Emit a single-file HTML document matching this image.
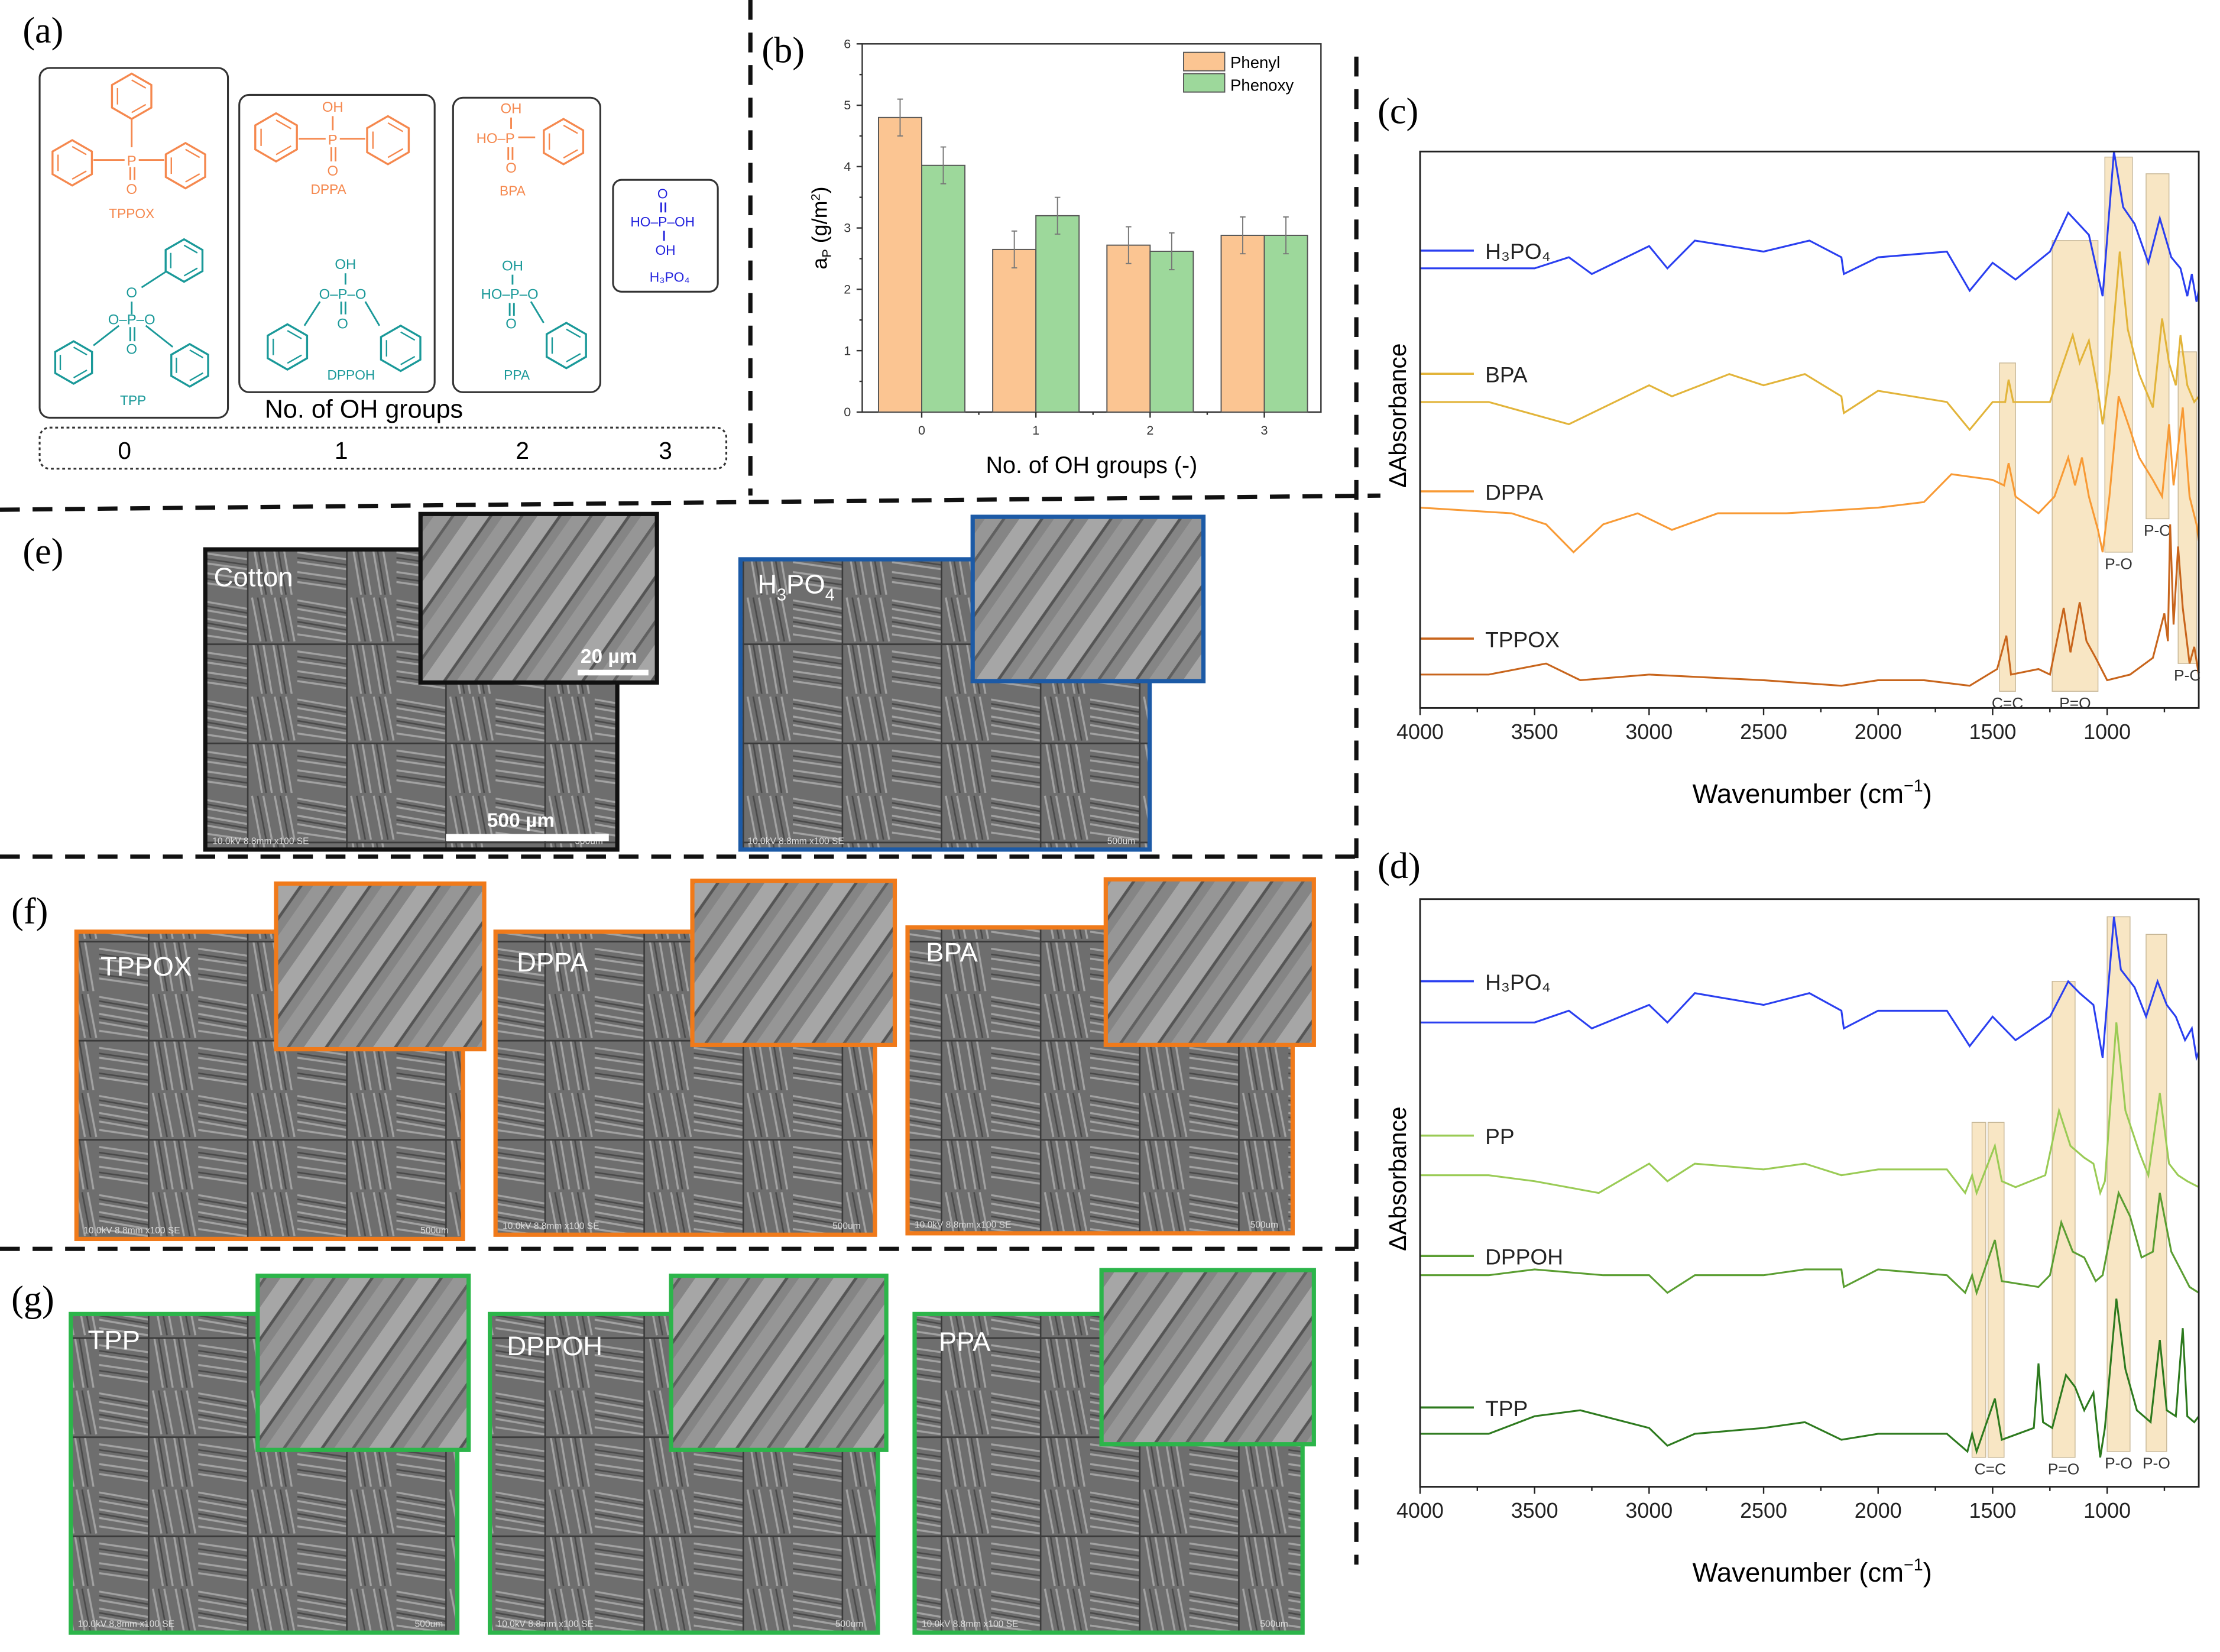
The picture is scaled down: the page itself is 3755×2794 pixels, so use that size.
<!DOCTYPE html>
<html><head><meta charset="utf-8">
<style>
html,body{margin:0;padding:0;background:#fff;}
svg{display:block;font-family:"Liberation Sans",sans-serif;}
.pl{font-family:"Liberation Serif",serif;font-size:26px;}
</style></head>
<body>
<svg id="fig" width="3755" height="2794" viewBox="0 0 1568 1166.7" xmlns="http://www.w3.org/2000/svg">
<defs>
<pattern id="weave" width="70" height="70" patternUnits="userSpaceOnUse">
<rect width="70" height="70" fill="#6e6e6e"/>
<g stroke="#a2a2a2" stroke-width="1.4">
<line x1="0" y1="4" x2="35" y2="10"/><line x1="0" y1="10" x2="35" y2="16"/><line x1="0" y1="16" x2="35" y2="22"/><line x1="0" y1="22" x2="35" y2="28"/><line x1="0" y1="28" x2="35" y2="33"/>
<line x1="39" y1="35" x2="45" y2="70"/><line x1="46" y1="35" x2="52" y2="70"/><line x1="53" y1="35" x2="59" y2="70"/><line x1="60" y1="35" x2="66" y2="70"/>
<line x1="38" y1="2" x2="44" y2="33"/><line x1="46" y1="2" x2="52" y2="33"/><line x1="54" y1="2" x2="60" y2="33"/><line x1="62" y1="2" x2="68" y2="33"/>
<line x1="0" y1="40" x2="35" y2="45"/><line x1="0" y1="47" x2="35" y2="52"/><line x1="0" y1="54" x2="35" y2="59"/><line x1="0" y1="61" x2="35" y2="66"/>
</g>
<g stroke="#4a4a4a" stroke-width="1.1">
<line x1="0" y1="7" x2="35" y2="13"/><line x1="0" y1="19" x2="35" y2="25"/><line x1="42" y1="35" x2="48" y2="70"/><line x1="56" y1="35" x2="62" y2="70"/>
<line x1="42" y1="2" x2="48" y2="33"/><line x1="58" y1="2" x2="64" y2="33"/><line x1="0" y1="44" x2="35" y2="49"/><line x1="0" y1="58" x2="35" y2="63"/>
<line x1="35" y1="0" x2="35" y2="70" stroke="#3a3a3a"/><line x1="0" y1="35" x2="70" y2="35" stroke="#3a3a3a"/>
</g>
</pattern>
<pattern id="fiber" width="40" height="40" patternUnits="userSpaceOnUse" patternTransform="rotate(-55)">
<rect width="40" height="40" fill="#858585"/>
<rect x="0" y="0" width="40" height="12" fill="#a6a6a6"/>
<rect x="0" y="12" width="40" height="2" fill="#555"/>
<rect x="0" y="20" width="40" height="10" fill="#969696"/>
<rect x="0" y="30" width="40" height="2" fill="#606060"/>
</pattern>
</defs>

<g stroke="#111" stroke-width="3" stroke-dasharray="14,9" fill="none">
<line x1="530" y1="0" x2="530" y2="350"/>
<line x1="0" y1="360" x2="975" y2="350"/>
<line x1="958" y1="40" x2="958" y2="1105"/>
<line x1="0" y1="605" x2="958" y2="605"/>
<line x1="0" y1="882" x2="958" y2="882"/>
</g>

<text class="pl" x="16" y="30">(a)</text>
<text class="pl" x="538" y="44">(b)</text>
<text class="pl" x="973" y="87">(c)</text>
<text class="pl" x="973" y="620">(d)</text>
<text class="pl" x="16" y="398">(e)</text>
<text class="pl" x="8" y="652">(f)</text>
<text class="pl" x="8" y="926">(g)</text>

<g id="panelA">
<g fill="none" stroke="#333" stroke-width="1.3">
<rect x="28" y="48" width="133" height="247" rx="7"/>
<rect x="169" y="67" width="138" height="210" rx="7"/>
<rect x="320" y="69" width="104" height="208" rx="7"/>
<rect x="433" y="127" width="74" height="79" rx="6"/>
<rect x="28" y="302" width="485" height="29" rx="7" stroke-dasharray="2,2"/>
</g>
<g id="molText" font-size="10" text-anchor="middle" font-family="Liberation Sans Narrow, Liberation Sans, sans-serif"></g>
<text x="257" y="295" font-size="18" text-anchor="middle">No. of OH groups</text>
<g font-size="17" text-anchor="middle">
<text x="88" y="324">0</text><text x="241" y="324">1</text><text x="369" y="324">2</text><text x="470" y="324">3</text>
</g>
</g>

<g id="panelB"></g>
<g id="panelC"></g>
<g id="panelD"></g>
<g id="sem"></g>
</svg>

<script>
var NS="http://www.w3.org/2000/svg";
function mk(tag,attrs,parent,txt){var e=document.createElementNS(NS,tag);for(var k in attrs)e.setAttribute(k,attrs[k]);if(txt!==undefined)e.textContent=txt;parent.appendChild(e);return e;}

var OR="#f5884e",TE="#1a9999",BL="#2222dd";
var A=document.getElementById('panelA');
function hex(cx,cy,r,col){var p=[];for(var i=0;i<6;i++){var a=Math.PI/6+i*Math.PI/3;p.push((cx+r*Math.cos(a)).toFixed(1)+","+(cy+r*Math.sin(a)).toFixed(1));}
var h=mk('polygon',{points:p.join(' '),fill:'none',stroke:col,'stroke-width':1.4},A);


var q=[];for(var j=0;j<6;j++){var b=Math.PI/6+j*Math.PI/3;q.push((cx+r*0.72*Math.cos(b)).toFixed(1)+","+(cy+r*0.72*Math.sin(b)).toFixed(1));}
mk('polyline',{points:q.slice(0,2).join(' '),stroke:col,fill:'none','stroke-width':1},A);
mk('polyline',{points:q.slice(2,4).join(' '),stroke:col,fill:'none','stroke-width':1},A);
mk('polyline',{points:q.slice(4,6).join(' '),stroke:col,fill:'none','stroke-width':1},A);}
function ln(x1,y1,x2,y2,col){mk('line',{x1:x1,y1:y1,x2:x2,y2:y2,stroke:col,'stroke-width':1.2},A);}
var T=document.getElementById('molText');
function tx(x,y,s,col,sz){var t=mk('text',{x:x,y:y,fill:col,'font-size':sz||10},T,s);return t;}
hex(93,68,16,OR);hex(51,115,16,OR);hex(131,117,16,OR);
ln(93,84,93,104,OR);ln(66,113,88,113,OR);ln(98,113,116,113,OR);ln(92,118,92,127,OR);ln(95,118,95,127,OR);
tx(93,117,"P",OR);tx(93,137,"O",OR);tx(93,154,"TPPOX",OR,9.5);
hex(130,184,15,TE);hex(52,256,15,TE);hex(134,258,15,TE);
tx(93,210,"O",TE);ln(93,213,93,222,TE);tx(93,229,"O–P–O",TE);ln(92,231,92,241,TE);ln(95,231,95,241,TE);tx(93,250,"O",TE);
ln(100,203,117,192,TE);ln(84,230,66,244,TE);ln(103,230,122,245,TE);tx(94,286,"TPP",TE,9.5);
hex(195,97,17,OR);hex(274,99,17,OR);
tx(235,79,"OH",OR);ln(235,82,235,92,OR);tx(235,102,"P",OR);ln(211,98,230,98,OR);ln(240,98,258,98,OR);ln(234,104,234,114,OR);ln(237,104,237,114,OR);tx(235,124,"O",OR);
tx(232,137,"DPPA",OR,9.5);
tx(244,190,"OH",TE);ln(244,193,244,201,TE);tx(242,211,"O–P–O",TE);ln(241,213,241,222,TE);ln(244,213,244,222,TE);tx(242,232,"O",TE);
ln(226,213,215,230,TE);ln(258,213,268,230,TE);hex(203,245,16,TE);hex(283,246,16,TE);tx(248,268,"DPPOH",TE,9.5);
tx(361,80,"OH",OR);ln(361,83,361,91,OR);tx(350,101,"HO–P",OR);ln(366,97,378,97,OR);hex(398,100,16,OR);ln(359,104,359,113,OR);ln(362,104,362,113,OR);tx(361,122,"O",OR);tx(362,138,"BPA",OR,9.5);
tx(362,191,"OH",TE);ln(362,194,362,201,TE);tx(360,211,"HO–P–O",TE);ln(360,214,360,223,TE);ln(363,214,363,223,TE);tx(361,232,"O",TE);ln(375,213,384,228,TE);hex(400,244,16,TE);tx(365,268,"PPA",TE,9.5);
tx(468,140,"O",BL,9.5);ln(467,143,467,150,BL);ln(470,143,470,150,BL);tx(468,160,"HO–P–OH",BL,9.5);ln(469,163,469,170,BL);tx(470,180,"OH",BL,9.5);tx(473,199,"H₃PO₄",BL,9.5);

/* ---------- Panel b bar chart ---------- */
var bCategories=["0","1","2","3"];
var bPhenyl=[4.8,2.65,2.72,2.88];
var bPhenoxy=[4.02,3.2,2.62,2.88];
var bPhenylErr=[0.3,0.3,0.3,0.3];
var bPhenoxyErr=[0.3,0.3,0.3,0.3];
var bYTicks=[0,1,2,3,4,5,6];
(function(){
var G=document.getElementById('panelB');
var L=609,R=933,Tp=31,Bt=291,ymax=6;
function y(v){return Bt-(v/ymax)*(Bt-Tp);}
var n=bCategories.length;
function xc(i){return 651+i*((893-651)/(n-1));}
var bw=30.5;
var fr=mk('rect',{x:L,y:Tp,width:R-L,height:Bt-Tp,fill:'none',stroke:'#333','stroke-width':1},G);

bYTicks.forEach(function(t){mk('line',{x1:L-4,y1:y(t),x2:L,y2:y(t),stroke:'#333'},G);
var tt=mk('text',{x:L-8,y:y(t)+3,'font-size':9,'text-anchor':'end',fill:'#333'},G,t);
if(t<ymax)mk('line',{x1:L-2,y1:y(t+0.5),x2:L,y2:y(t+0.5),stroke:'#333'},G);});
for(var i=0;i<n;i++){var cx=xc(i);
var r1=mk('rect',{x:cx-bw,y:y(bPhenyl[i]),width:bw,height:Bt-y(bPhenyl[i]),fill:'#fbc592',stroke:'#555','stroke-width':0.8},G);

var r2=mk('rect',{x:cx,y:y(bPhenoxy[i]),width:bw,height:Bt-y(bPhenoxy[i]),fill:'#9dd89b',stroke:'#555','stroke-width':0.8},G);

[[cx-bw/2,bPhenyl[i],bPhenylErr[i]],[cx+bw/2,bPhenoxy[i],bPhenoxyErr[i]]].forEach(function(e){
var eb=mk('path',{d:'M'+e[0]+' '+y(e[1]+e[2])+'V'+y(e[1]-e[2])+'M'+(e[0]-2)+' '+y(e[1]+e[2])+'h4M'+(e[0]-2)+' '+y(e[1]-e[2])+'h4',stroke:'#777',fill:'none','stroke-width':0.8},G);
});
mk('line',{x1:cx,y1:Bt,x2:cx,y2:Bt+4,stroke:'#333'},G);
var xl=mk('text',{x:cx,y:Bt+16,'font-size':9,'text-anchor':'middle',fill:'#333'},G,bCategories[i]);

if(i<n-1)mk('line',{x1:cx+(xc(1)-xc(0))/2,y1:Bt,x2:cx+(xc(1)-xc(0))/2,y2:Bt+2,stroke:'#333'},G);}
var xt=mk('text',{x:771,y:334,'font-size':16.5,'text-anchor':'middle'},G,"No. of OH groups (-)");

var yt=mk('text',{x:0,y:0,'font-size':15,'text-anchor':'middle',transform:'translate(584,161) rotate(-90)'},G);

yt.innerHTML='a<tspan font-size="9" dy="3">P</tspan><tspan dy="-3"> (g/m</tspan><tspan font-size="9" dy="-5">2</tspan><tspan dy="5">)</tspan>';
var lg=mk('g',{},G);
mk('rect',{x:836,y:37,width:29,height:13,fill:'#fbc592',stroke:'#555','stroke-width':0.8},lg);
mk('rect',{x:836,y:52,width:29,height:13,fill:'#9dd89b',stroke:'#555','stroke-width':0.8},lg);
mk('text',{x:869,y:48,'font-size':11.5},lg,"Phenyl");
mk('text',{x:869,y:64,'font-size':11.5},lg,"Phenoxy");
})();

/* ---------- Panel c / d FTIR ---------- */
var wnTicks=[4000,3500,3000,2500,2000,1500,1000];
var cH3PO4=[[4000,79],[3700,79],[3500,79],[3350,81],[3250,78],[3000,83],[2920,79],[2800,84],[2500,82],[2300,84],[2160,81],[2150,78],[2000,81],[1700,82],[1600,75],[1500,80],[1400,77],[1250,82],[1170,89],[1080,85],[1020,74],[970,100],[930,90],[880,87],[820,80],[770,88],[720,81],[680,79],[650,74],[630,78],[610,73],[600,75]];
var cBPA=[[4000,55],[3700,55],[3350,51],[3200,54],[3000,58],[2900,56],[2650,60],[2500,58],[2320,60],[2160,56],[2150,53],[2000,57],[1700,55],[1600,50],[1500,55],[1445,55],[1430,59],[1410,55],[1250,55],[1200,61],[1150,67],[1120,62],[1080,66],[1040,57],[1020,51],[990,60],[945,82],[910,68],[860,60],[800,54],[760,70],[730,62],[700,58],[680,67],[650,58],[620,55],[600,56]];
var cDPPA=[[4000,36],[3600,35],[3450,33],[3330,28],[3200,33],[3050,35],[2900,32],[2700,35],[2400,35],[2000,36],[1800,37],[1680,42],[1500,41],[1450,40],[1430,44],[1400,38],[1300,35],[1230,38],[1170,45],[1140,40],[1110,45],[1080,38],[1040,32],[1020,28],[990,38],[950,56],[900,50],[860,45],[800,41],[760,38],[730,51],[710,40],[670,54],[640,38],[610,33],[600,30]];
var cTPPOX=[[4000,6],[3700,6],[3450,8],[3300,5],[3000,6],[2500,5],[2160,4],[2000,5],[1800,5],[1600,4],[1480,7],[1440,13],[1420,6],[1300,7],[1250,6],[1190,18],[1160,10],[1120,19],[1090,12],[1050,9],[1000,5],[900,6],[800,9],[750,17],[735,12],[725,33],[710,15],[690,29],[670,18],[640,8],[620,11],[600,6]];
var dH3PO4=[[4000,79],[3700,79],[3500,79],[3350,81],[3250,78],[3000,82],[2920,79],[2800,84],[2500,82],[2300,84],[2160,81],[2150,78],[2000,81],[1700,81],[1600,75],[1500,80],[1400,76],[1250,80],[1170,86],[1120,84],[1060,82],[1020,73],[970,97],[940,88],[880,85],[830,80],[780,86],[740,82],[700,80],[660,76],[630,78],[610,73],[600,74]];
var dPP=[[4000,53],[3700,53],[3500,52],[3220,50],[3000,55],[2920,52],[2800,55],[2500,54],[2320,55],[2160,53],[2000,54],[1700,54],[1620,50],[1590,53],[1570,50],[1490,58],[1460,52],[1400,51],[1270,53],[1210,64],[1160,58],[1100,56],[1060,55],[1030,50],[1010,52],[960,79],[920,64],[860,57],[820,53],[770,67],[730,55],[690,53],[650,52],[600,51]];
var dDPPOH=[[4000,36],[3700,36],[3500,37],[3200,36],[3000,36],[2920,33],[2800,36],[2500,36],[2320,37],[2160,37],[2150,34],[2000,37],[1700,36],[1620,33],[1590,36],[1570,33],[1490,42],[1460,35],[1300,34],[1250,36],[1200,45],[1150,40],[1100,39],[1050,35],[1020,36],[950,50],[900,46],[850,39],[800,40],[770,50],[720,40],[680,37],[640,34],[600,33]];
var dTPP=[[4000,9],[3700,9],[3500,12],[3300,13],[3000,10],[2920,7],[2800,9],[2500,10],[2320,11],[2160,8],[2000,9],[1700,9],[1610,6],[1590,9],[1570,6],[1490,15],[1460,8],[1320,10],[1300,21],[1280,11],[1240,10],[1180,19],[1140,17],[1100,13],[1060,16],[1030,5],[1010,10],[960,32],[920,20],[870,13],[810,11],[770,25],[740,13],[700,12],[670,27],[650,12],[620,11],[600,12]];
var cLabels=["H₃PO₄","BPA","DPPA","TPPOX"];
var dLabels=["H₃PO₄","PP","DPPOH","TPP"];
var cBands=[[1470,1400,62,3,"C=C"],[1240,1040,84,3,"P=O"],[1010,890,99,28,"P-O"],[830,730,96,34,"P-O"],[690,610,64,8,"P-C"]];
var dBands=[[1590,1530,62,5,"C=C"],[1520,1450,62,5,""],[1240,1140,86,5,"P=O"],[1000,900,97,6,"P-O"],[830,740,94,6,"P-O"]];

function ftir(gid,top,bot,series,labels,colors,labelY,bands){
var G=document.getElementById(gid);
var L=1003,R=1553,wl=4000,wr=600;
function x(w){return L+(wl-w)/(wl-wr)*(R-L);}
function y(v){return bot-v/100*(bot-top);}
bands.forEach(function(b,i){
var r=mk('rect',{x:x(b[0]),y:y(b[2]),width:x(b[1])-x(b[0]),height:y(b[3])-y(b[2]),fill:'#f5deb0','fill-opacity':0.75,stroke:'#c8b898','stroke-width':0.6},G);

if(b[4]){var t=mk('text',{x:(x(b[0])+x(b[1]))/2+(b[4]=="C=C"&&gid=="panelD"?8:0),y:y(b[3])+12,'font-size':11,'text-anchor':'middle',fill:'#333'},G,b[4]);
}});
series.forEach(function(s,i){
var d=s.map(function(p,j){return (j?'L':'M')+x(p[0]).toFixed(1)+' '+y(p[1]).toFixed(1);}).join('');
var pth=mk('path',{d:d,fill:'none',stroke:colors[i],'stroke-width':1.3},G);

mk('line',{x1:L,y1:labelY[i],x2:L+38,y2:labelY[i],stroke:colors[i],'stroke-width':1.5},G);
var lt=mk('text',{x:L+46,y:labelY[i]+6,'font-size':15.5,fill:'#222'},G,labels[i]);
});
var fr=mk('rect',{x:L,y:top,width:R-L,height:bot-top,fill:'none',stroke:'#222','stroke-width':1.2},G);

wnTicks.forEach(function(w){mk('line',{x1:x(w),y1:bot,x2:x(w),y2:bot+5,stroke:'#222'},G);
mk('line',{x1:x(w-250),y1:bot,x2:x(w-250),y2:bot+3,stroke:'#222'},G);
var t=mk('text',{x:x(w),y:bot+22,'font-size':15,'text-anchor':'middle',fill:'#222'},G,w);
});
var xt=mk('text',{x:1280,y:bot+67,'font-size':19,'text-anchor':'middle'},G);

xt.innerHTML='Wavenumber (cm<tspan font-size="12" dy="-8">−1</tspan><tspan dy="8">)</tspan>';
var yt=mk('text',{x:0,y:0,'font-size':17,'text-anchor':'middle',transform:'translate(993,'+((top+bot)/2-10)+') rotate(-90)'},G,"ΔAbsorbance");

}
ftir('panelC',107,500,[cH3PO4,cBPA,cDPPA,cTPPOX],cLabels,['#2a3ff0','#e2b43a','#f89a35','#c8651c'],[177,264,347,451],cBands);
ftir('panelD',635,1050,[dH3PO4,dPP,dDPPOH,dTPP],dLabels,['#2a3ff0','#9acb55','#5b9e32','#2d7a1e'],[693,802,887,994],dBands);

/* ---------- SEM images ---------- */
var S=document.getElementById('sem');
function sem(name,mx,my,mw,mh,ix,iy,iw,ih,col,label,lx,ly){
var g=mk('g',{},S);
mk('rect',{x:mx,y:my,width:mw,height:mh,fill:'url(#weave)',stroke:col,'stroke-width':3},g);
mk('rect',{x:ix,y:iy,width:iw,height:ih,fill:'url(#fiber)',stroke:col,'stroke-width':3},g);
var t=mk('text',{x:mx+lx,y:my+ly,'font-size':19,fill:'#fff'},g);t.innerHTML=label;

mk('text',{x:mx+5,y:my+mh-4,'font-size':6.5,fill:'#ddd'},g,"10.0kV 8.8mm x100 SE");
mk('text',{x:mx+mw-30,y:my+mh-4,'font-size':6.5,fill:'#ddd'},g,"500um");
}
sem('cotton',145,388,291,212,297,363,167,119,'#111','Cotton',6,26);
sem('h3po4',523,395,289,205,687,365,163,116,'#1c5aa6','H<tspan font-size="12" dy="5">3</tspan><tspan dy="-5">PO</tspan><tspan font-size="12" dy="5">4</tspan>',12,24);
sem('tppox',54,658,273,217,195,624,147,117,'#f07a1a','TPPOX',17,31);
sem('dppa',350,658,268,214,489,622,143,116,'#f07a1a','DPPA',15,28);
sem('bpa',641,655,272,216,781,621,147,117,'#f07a1a','BPA',13,24);
sem('tpp',50,928,273,225,182,901,149,123,'#2cb54a','TPP',12,25);
sem('dppoh',346,928,274,225,474,901,152,123,'#2cb54a','DPPOH',12,29);
sem('ppa',646,928,274,225,778,897,150,123,'#2cb54a','PPA',17,26);
var sb=mk('g',{},S);
mk('rect',{x:408,y:473,width:50,height:4,fill:'#fff'},sb);
mk('text',{x:410,y:468,'font-size':14,fill:'#fff','font-weight':'bold'},sb,"20 µm");
mk('rect',{x:315,y:589,width:115,height:5,fill:'#fff'},sb);
mk('text',{x:344,y:584,'font-size':14,fill:'#fff','font-weight':'bold'},sb,"500 µm");
</script>
</body></html>
